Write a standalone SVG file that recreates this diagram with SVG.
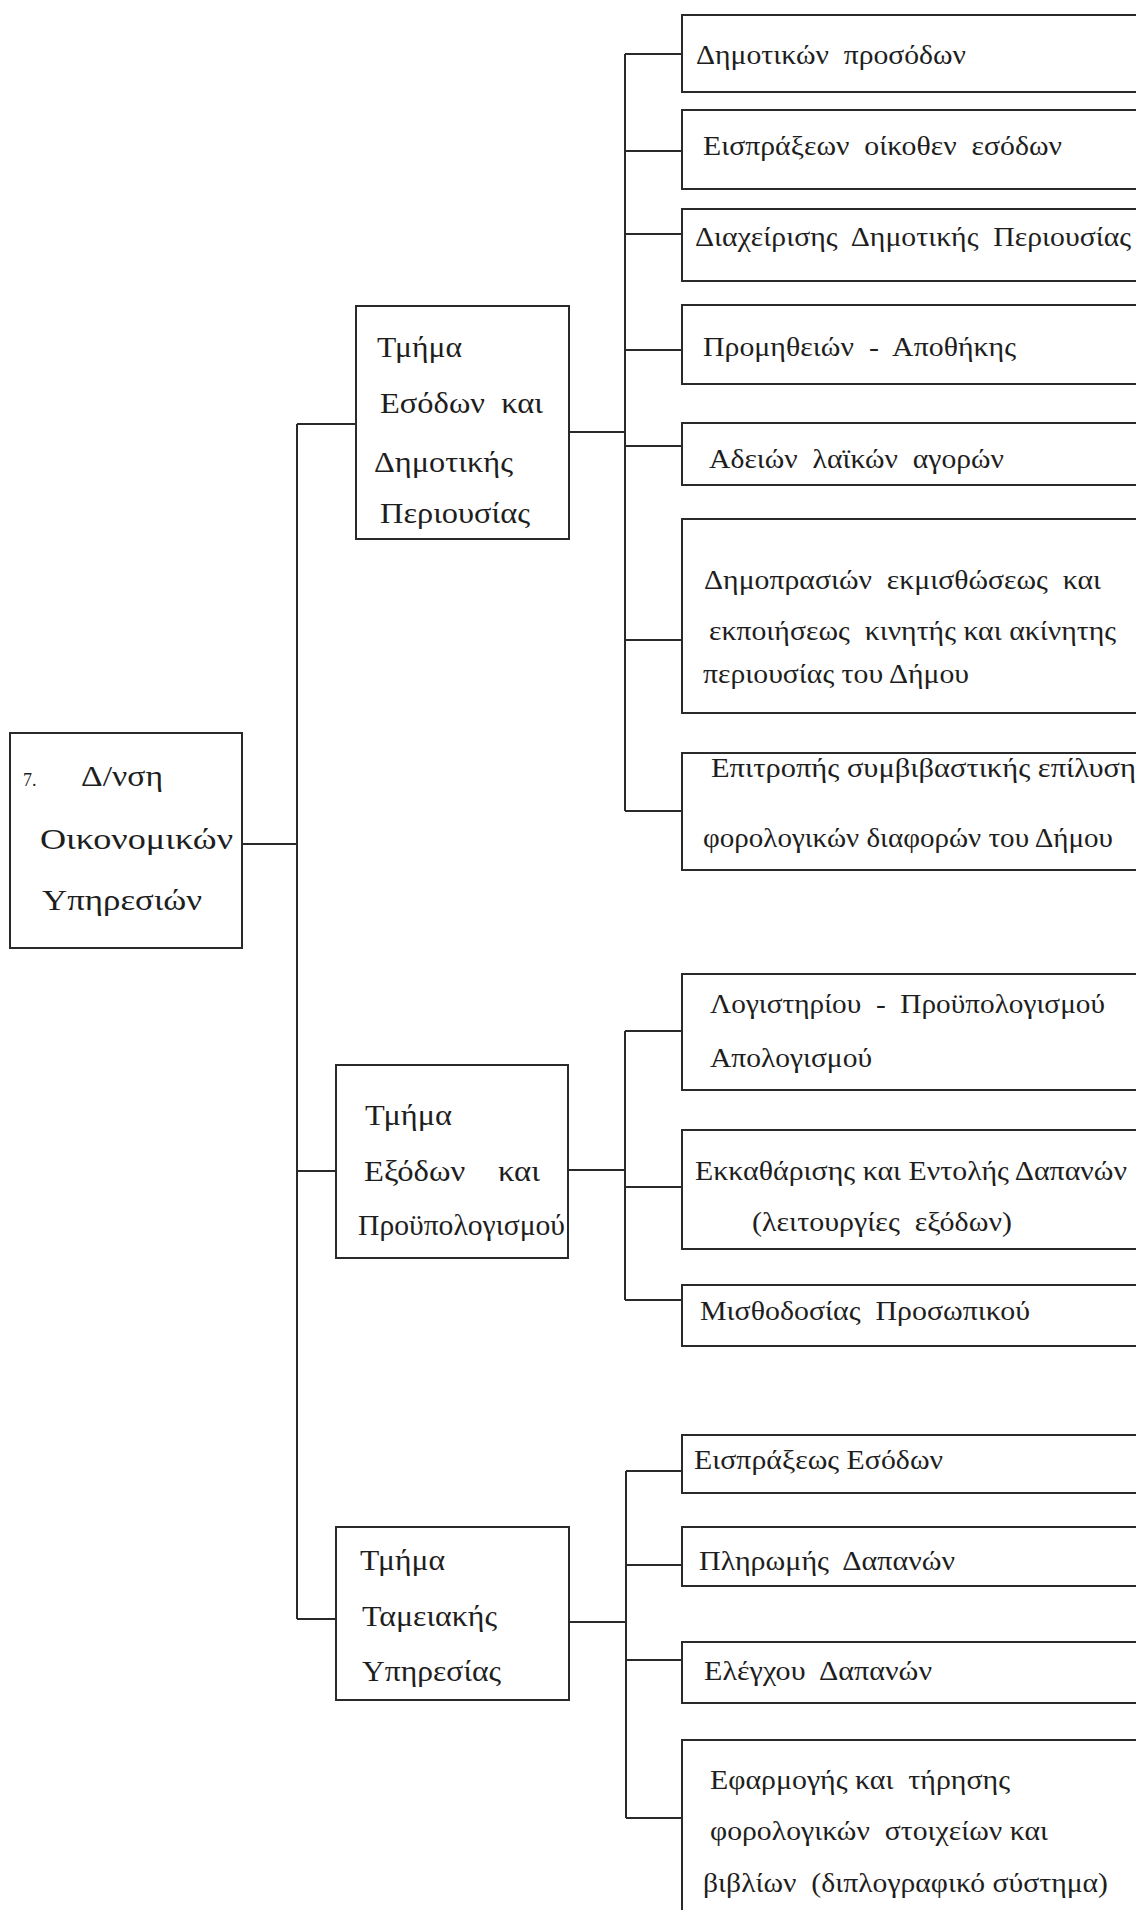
<svg xmlns="http://www.w3.org/2000/svg" width="1136" height="1910" viewBox="0 0 1136 1910">
<style>
.box{fill:none;stroke:#2a2a2a;stroke-width:2}
.ln{fill:none;stroke:#2a2a2a;stroke-width:2}
text{font-family:"Liberation Serif","Times New Roman",serif;fill:#1e1e1e;font-size:28px}
.big{font-size:30px}
.sm{font-size:18px}
</style>
<rect width="1136" height="1910" fill="#ffffff"/>
<g id="connectors">
<path class="ln" d="M242 844H297M297 424V1619M297 424H356M297 1171H336M297 1619H336"/>
<path class="ln" d="M569 432H625M625 54V811M625 54H682M625 151H682M625 234H682M625 350H682M625 446H682M625 640H682M625 811H682"/>
<path class="ln" d="M568 1170H625M625 1031V1300M625 1031H682M625 1187H682M625 1300H682"/>
<path class="ln" d="M569 1622H626M626 1471V1818M626 1471H682M626 1565H682M626 1660H682M626 1818H682"/>
</g>
<g id="root">
<rect class="box" x="10" y="733" width="232" height="215"/>
<text class="sm" x="23" y="786">7.</text>
<text class="big" x="81" y="786" textLength="82" lengthAdjust="spacingAndGlyphs">Δ/νση</text>
<text class="big" x="40" y="849" textLength="193" lengthAdjust="spacingAndGlyphs">Οικονομικών</text>
<text class="big" x="42" y="910" textLength="160" lengthAdjust="spacingAndGlyphs">Υπηρεσιών</text>
</g>
<g id="sec1">
<rect class="box" x="356" y="306" width="213" height="233"/>
<text class="big" x="377" y="357" textLength="85" lengthAdjust="spacingAndGlyphs">Τμήμα</text>
<text class="big" x="380" y="413" xml:space="preserve" textLength="163" lengthAdjust="spacingAndGlyphs">Εσόδων  και</text>
<text class="big" x="374" y="472" textLength="139" lengthAdjust="spacingAndGlyphs">Δημοτικής</text>
<text class="big" x="380" y="523" textLength="150" lengthAdjust="spacingAndGlyphs">Περιουσίας</text>
</g>
<g id="sec2">
<rect class="box" x="336" y="1065" width="232" height="193"/>
<text class="big" x="365" y="1125" textLength="87" lengthAdjust="spacingAndGlyphs">Τμήμα</text>
<text class="big" x="364" y="1181" xml:space="preserve" textLength="176" lengthAdjust="spacingAndGlyphs">Εξόδων    και</text>
<text class="big" x="358" y="1235" textLength="207" lengthAdjust="spacingAndGlyphs">Προϋπολογισμού</text>
</g>
<g id="sec3">
<rect class="box" x="336" y="1527" width="233" height="173"/>
<text class="big" x="360" y="1570" textLength="85" lengthAdjust="spacingAndGlyphs">Τμήμα</text>
<text class="big" x="362" y="1626" textLength="135" lengthAdjust="spacingAndGlyphs">Ταμειακής</text>
<text class="big" x="362" y="1681" textLength="139" lengthAdjust="spacingAndGlyphs">Υπηρεσίας</text>
</g>
<g id="leaf1"><rect class="box" x="682" y="15" width="470" height="77"/><text x="696" y="64" xml:space="preserve" textLength="270" lengthAdjust="spacingAndGlyphs">Δημοτικών  προσόδων</text></g>
<g id="leaf2"><rect class="box" x="682" y="110" width="470" height="79"/><text x="703" y="155" xml:space="preserve" textLength="359" lengthAdjust="spacingAndGlyphs">Εισπράξεων  οίκοθεν  εσόδων</text></g>
<g id="leaf3"><rect class="box" x="682" y="209" width="470" height="72"/><text x="695" y="246" xml:space="preserve" textLength="436" lengthAdjust="spacingAndGlyphs">Διαχείρισης  Δημοτικής  Περιουσίας</text></g>
<g id="leaf4"><rect class="box" x="682" y="305" width="470" height="79"/><text x="703" y="356" xml:space="preserve" textLength="313" lengthAdjust="spacingAndGlyphs">Προμηθειών  -  Αποθήκης</text></g>
<g id="leaf5"><rect class="box" x="682" y="423" width="470" height="62"/><text x="709" y="468" xml:space="preserve" textLength="295" lengthAdjust="spacingAndGlyphs">Αδειών  λαϊκών  αγορών</text></g>
<g id="leaf6"><rect class="box" x="682" y="519" width="470" height="194"/>
<text x="704" y="589" xml:space="preserve" textLength="397" lengthAdjust="spacingAndGlyphs">Δημοπρασιών  εκμισθώσεως  και</text>
<text x="709" y="640" xml:space="preserve" textLength="407" lengthAdjust="spacingAndGlyphs">εκποιήσεως  κινητής και ακίνητης</text>
<text x="703" y="683" textLength="266" lengthAdjust="spacingAndGlyphs">περιουσίας του Δήμου</text></g>
<g id="leaf7"><rect class="box" x="682" y="753" width="470" height="117"/>
<text x="711" y="777" textLength="437" lengthAdjust="spacingAndGlyphs">Επιτροπής συμβιβαστικής επίλυσης</text>
<text x="703" y="847" textLength="410" lengthAdjust="spacingAndGlyphs">φορολογικών διαφορών του Δήμου</text></g>
<g id="leaf8"><rect class="box" x="682" y="974" width="470" height="116"/>
<text x="710" y="1013" xml:space="preserve" textLength="395" lengthAdjust="spacingAndGlyphs">Λογιστηρίου  -  Προϋπολογισμού</text>
<text x="710" y="1067" textLength="162" lengthAdjust="spacingAndGlyphs">Απολογισμού</text></g>
<g id="leaf9"><rect class="box" x="682" y="1130" width="470" height="119"/>
<text x="695" y="1180" textLength="432" lengthAdjust="spacingAndGlyphs">Εκκαθάρισης και Εντολής Δαπανών</text>
<text x="752" y="1231" xml:space="preserve" textLength="260" lengthAdjust="spacingAndGlyphs">(λειτουργίες  εξόδων)</text></g>
<g id="leaf10"><rect class="box" x="682" y="1285" width="470" height="61"/><text x="700" y="1320" xml:space="preserve" textLength="330" lengthAdjust="spacingAndGlyphs">Μισθοδοσίας  Προσωπικού</text></g>
<g id="leaf11"><rect class="box" x="682" y="1435" width="470" height="58"/><text x="694" y="1469" textLength="249" lengthAdjust="spacingAndGlyphs">Εισπράξεως Εσόδων</text></g>
<g id="leaf12"><rect class="box" x="682" y="1527" width="470" height="59"/><text x="699" y="1570" xml:space="preserve" textLength="256" lengthAdjust="spacingAndGlyphs">Πληρωμής  Δαπανών</text></g>
<g id="leaf13"><rect class="box" x="682" y="1642" width="470" height="61"/><text x="704" y="1680" xml:space="preserve" textLength="228" lengthAdjust="spacingAndGlyphs">Ελέγχου  Δαπανών</text></g>
<g id="leaf14"><rect class="box" x="682" y="1740" width="470" height="190"/>
<text x="710" y="1789" xml:space="preserve" textLength="300" lengthAdjust="spacingAndGlyphs">Εφαρμογής και  τήρησης</text>
<text x="710" y="1840" xml:space="preserve" textLength="338" lengthAdjust="spacingAndGlyphs">φορολογικών  στοιχείων και</text>
<text x="703" y="1892" xml:space="preserve" textLength="405" lengthAdjust="spacingAndGlyphs">βιβλίων  (διπλογραφικό σύστημα)</text></g>
</svg>
